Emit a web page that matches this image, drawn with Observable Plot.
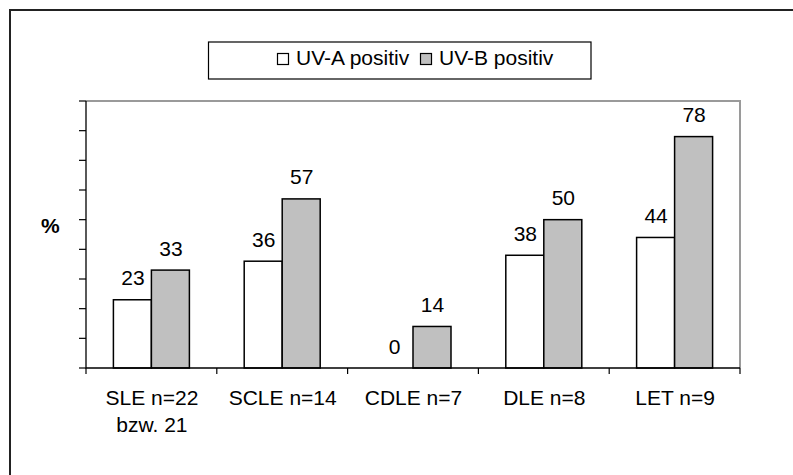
<!DOCTYPE html>
<html><head><meta charset="utf-8">
<script src="https://cdn.jsdelivr.net/npm/d3@7"></script>
<script src="https://cdn.jsdelivr.net/npm/@observablehq/plot@0.6"></script>
<style>
html,body{margin:0;padding:0;background:#fff;overflow:hidden;}
#chart{position:relative;width:793px;height:475px;}
</style></head><body><div id="chart"></div>
<script>
const categories = ["SLE n=22\nbzw. 21", "SCLE n=14", "CDLE n=7", "DLE n=8", "LET n=9"];
const seriesNames = ["UV-A positiv", "UV-B positiv"];
const uvA = [23, 36, 0, 38, 44];
const uvB = [33, 57, 14, 50, 78];
const seriesFill = ["#ffffff", "#c0c0c0"];
const yTicks = [0, 10, 20, 30, 40, 50, 60, 70, 80, 90];
const yLabel = "%";

const data = categories.flatMap((c, i) => [
  {cat: c, series: seriesNames[0], value: uvA[i]},
  {cat: c, series: seriesNames[1], value: uvB[i]}
]);

const font = '"Liberation Sans", Arial, sans-serif';
const plot = Plot.plot({
  width: 793, height: 475,
  marginLeft: 86, marginRight: 53, marginTop: 101, marginBottom: 107,
  style: {fontFamily: font, fontSize: "21px", color: "#000", background: "transparent", overflow: "visible"},
  fx: {domain: categories, paddingInner: 0.419, paddingOuter: 0.2095, round: false, label: null},
  x: {domain: seriesNames, padding: 0, round: false, axis: null},
  y: {domain: [0, 90], axis: null},
  color: {domain: seriesNames, range: seriesFill},
  marks: [
    Plot.barY(data, {fx: "cat", x: "series", y: "value", fill: "series", stroke: "#000", strokeWidth: 1.5}),
    Plot.text(data, {fx: "cat", x: "series", y: "value", text: d => String(d.value), dy: -21.7, fontSize: 21, fill: "#000"}),
    Plot.axisFx({anchor: "bottom", tickSize: 0, tickPadding: 17, fontSize: 21, lineHeight: 1.3, label: null})
  ]
});
document.getElementById("chart").appendChild(plot);

const svg = d3.select(plot);
const fxScale = plot.scale("fx"), yScale = plot.scale("y");
const plotLeft = fxScale.range[0], plotRight = fxScale.range[1];
const plotBase = yScale.apply(0), plotTop = yScale.apply(yTicks[yTicks.length - 1]);
const nCat = categories.length;
const step = fxScale.step ?? (plotRight - plotLeft) / (nCat - fxScale.paddingInner + 2 * fxScale.paddingOuter);
const bw = fxScale.bandwidth ?? step * (1 - fxScale.paddingInner);
const gap = step - bw;
const g = svg.append("g");
g.append("path").attr("d", `M${plotLeft},${plotTop}H${plotRight}V${plotBase}`).attr("fill", "none").attr("stroke", "#9a9a9a").attr("stroke-width", 2);
g.append("path").attr("d", `M${plotLeft},${plotTop}V${plotBase}H${plotRight}`).attr("fill", "none").attr("stroke", "#000").attr("stroke-width", 1.3);
const edges = categories.map(c => fxScale.apply(c) - gap / 2).concat([plotRight]);
g.selectAll("line.edge").data(edges).join("line")
  .attr("x1", d => d).attr("x2", d => d).attr("y1", plotBase).attr("y2", plotBase + 6)
  .attr("stroke", "#000").attr("stroke-width", 1.2);
g.selectAll("line.ytick").data(yTicks).join("line")
  .attr("x1", plotLeft - 7).attr("x2", plotLeft).attr("y1", d => yScale.apply(d)).attr("y2", d => yScale.apply(d))
  .attr("stroke", "#000").attr("stroke-width", 1.2);

// y label
svg.append("text").attr("x", 41).attr("y", 233).attr("text-anchor", "start").attr("font-weight", "bold").attr("font-size", 21).attr("font-family", font).attr("fill", "#000").text(yLabel);

// legend
const lg = svg.append("g").attr("font-family", font).attr("font-size", 21).attr("text-anchor", "start");
lg.append("rect").attr("x", 208.5).attr("y", 42).attr("width", 382.5).attr("height", 37).attr("fill", "#fff").attr("stroke", "#000").attr("stroke-width", 1.2);
const legendX = [277.5, 420.5];
seriesNames.forEach((s, i) => {
  lg.append("rect").attr("x", legendX[i]).attr("y", 53.5).attr("width", 11).attr("height", 11).attr("fill", seriesFill[i]).attr("stroke", "#000").attr("stroke-width", 1.2);
  lg.append("text").attr("x", legendX[i] + 18.5).attr("y", 65).attr("fill", "#000").attr("text-anchor", "start").text(s);
});

// outer border (right/bottom edges fall outside the picture)
svg.append("path").attr("d", "M10,476V10H794").attr("fill", "none").attr("stroke", "#222").attr("stroke-width", 2);
</script></body></html>
